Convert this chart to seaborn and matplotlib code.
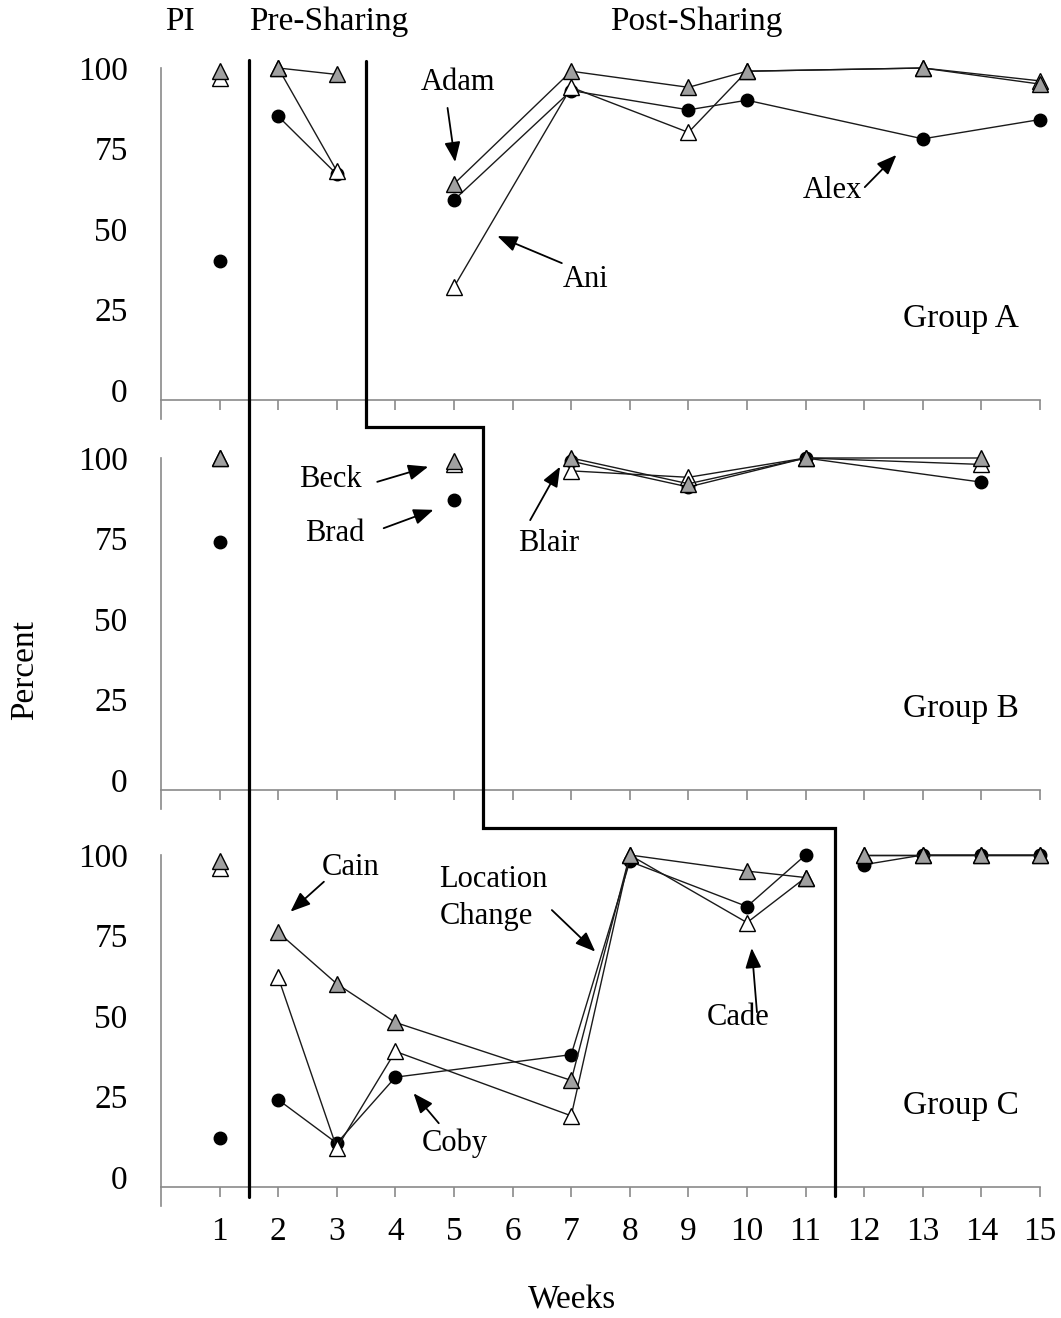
import numpy as np
import pandas as pd
import matplotlib
matplotlib.use("Agg")
import matplotlib.pyplot as plt
import matplotlib.transforms as mtransforms
from matplotlib.lines import Line2D
import seaborn as sns

# ---------------- data ----------------
weeks_A = [1, 2, 3, 5, 7, 9, 10, 13, 15]
adam = [99, 100, 98, 64, 99, 94, 99, 100, 95]
ani = [97, 100, 68, 32, 94, 80, 99, 100, 96]
alex = [40, 85, 67, 59, 93, 87, 90, 78, 84]

weeks_B = [1, 5, 7, 9, 11, 14]
beck = [100, 99, 100, 92, 100, 100]
brad = [74, 87, 99, 91, 100, 92.5]
blair = [100, 98, 96, 94, 100, 98]

weeks_C = [1, 2, 3, 4, 7, 8, 10, 11, 12, 13, 14, 15]
cain = [98, 76, 60, 48, 30, 100, 95, 93, 100, 100, 100, 100]
cade = [96, 62, 9, 39, 19, 100, 79, 93, 100, 100, 100, 100]
coby = [12, 24, 10.5, 31, 38, 98, 84, 100, 97, 100, 100, 100]

group_names = ["Group A", "Group B", "Group C"]
pi_boundary = 1.5
share_boundary = [3.5, 5.5, 11.5]
y_ticks = [0, 25, 50, 75, 100]
x_ticks = list(range(1, 16))
phase_labels = ["PI", "Pre-Sharing", "Post-Sharing"]

# ---------------- style ----------------
sns.set_theme(style="white")
plt.rcParams["font.family"] = ["Liberation Serif", "DejaVu Serif"]
plt.rcParams["text.color"] = "black"

W, H = 1061, 1318
fig = plt.figure(figsize=(W / 100, H / 100), dpi=100)

def fy(px):
    return 1 - px / H

left = 161 / W
width = (1040 - 161) / W
unit = 3.22
tops_px = [68, 458, 855]
axes = []
for t in tops_px:
    bot = t + 109 * unit
    ax = fig.add_axes([left, fy(bot), width, (bot - t) / H])
    axes.append(ax)

series_style = {
    "white": dict(marker="^", markersize=11.5, markerfacecolor="white"),
    "circle": dict(marker="o", markersize=9, markerfacecolor="black"),
    "gray": dict(marker="^", markersize=11.5, markerfacecolor="#a0a0a0"),
}

groups = [
    (weeks_A, [("circle", alex), ("white", ani), ("gray", adam)]),
    (weeks_B, [("circle", brad), ("white", blair), ("gray", beck)]),
    (weeks_C, [("circle", coby), ("white", cade), ("gray", cain)]),
]

for gi, (ax, (wks, ser)) in enumerate(zip(axes, groups)):
    b = share_boundary[gi]
    for kind, vals in ser:
        df = pd.DataFrame({"week": wks, "pct": vals})
        segs = [df[df.week < pi_boundary],
                df[(df.week > pi_boundary) & (df.week < b)],
                df[df.week > b]]
        for s in segs:
            if len(s) == 0:
                continue
            sns.lineplot(data=s, x="week", y="pct", ax=ax, estimator=None,
                         sort=False, color="#1a1a1a", lw=1.0,
                         markeredgecolor="black", markeredgewidth=1.0,
                         clip_on=False, **series_style[kind])

    ax.set_xlim(0, 15)
    ax.set_ylim(-9, 100)
    ax.set_xlabel("")
    ax.set_ylabel("")
    for sp in ["top", "right"]:
        ax.spines[sp].set_visible(False)
    for sp in ["left", "bottom"]:
        ax.spines[sp].set_color("#8a8a8a")
        ax.spines[sp].set_linewidth(1.2)
    ax.spines["bottom"].set_position(("data", -3.1))
    ax.set_yticks(y_ticks)
    ax.set_yticklabels([str(v) for v in y_ticks])
    ax.set_xticks(x_ticks)
    if gi == 2:
        ax.set_xticklabels([str(v) for v in x_ticks])
    else:
        ax.set_xticklabels([])
    ax.tick_params(axis="both", direction="out", length=7, width=1.2,
                   color="#8a8a8a", labelsize=24, labelcolor="black")
    ax.tick_params(axis="y", pad=17)
    ax.tick_params(axis="x", pad=14, bottom=True)
    ax.patch.set_alpha(0)
    ax.text(13.65, 22, group_names[gi], fontsize=24, ha="center", va="center")

# ---------------- annotations ----------------
arrow = dict(arrowstyle="-|>,head_length=0.55,head_width=0.22", color="black",
             lw=1.3, shrinkA=0, shrinkB=0, mutation_scale=22)

ann = [
    (0, "Adam", (5.07, 95.6), (4.89, 87.6), (5.02, 70.8)),
    (0, "Ani", (7.24, 34.2), (6.84, 39.4), (5.74, 47.8)),
    (0, "Alex", (11.45, 62.1), (12.01, 63.0), (12.55, 73.0)),
    (1, "Beck", (2.89, 93.2), (3.69, 92.6), (4.56, 97.3)),
    (1, "Brad", (2.96, 76.7), (3.80, 78.2), (4.65, 83.9)),
    (1, "Blair", (6.61, 73.3), (6.30, 80.7), (6.81, 97.3)),
    (2, "Cain", (3.23, 96.0), (2.78, 91.7), (2.21, 82.4)),
    (2, "Location\nChange", (5.70, 86.6), (6.67, 82.9), (7.41, 70.0)),
    (2, "Coby", (5.02, 10.6), (4.74, 16.7), (4.31, 26.0)),
    (2, "Cade", (9.85, 49.4), (10.17, 51.2), (10.08, 71.1)),
]
for gi, label, tpos, tail, head in ann:
    ax = axes[gi]
    ha = "left" if "\n" in label else "center"
    tx = tpos[0] - 0.95 if "\n" in label else tpos[0]
    ax.text(tx, tpos[1], label, fontsize=22, ha=ha, va="center",
            linespacing=1.35)
    ax.annotate("", xy=head, xytext=tail, arrowprops=arrow,
                annotation_clip=False)

# ---------------- phase change lines ----------------
trans = mtransforms.blended_transform_factory(axes[0].transData, fig.transFigure)
fig.add_artist(Line2D([pi_boundary, pi_boundary], [fy(60), fy(1197)],
                      transform=trans, color="black", lw=2.3))
step_x = [share_boundary[0], share_boundary[0], share_boundary[1],
          share_boundary[1], share_boundary[2], share_boundary[2]]
step_y = [fy(61), fy(427), fy(427), fy(828), fy(828), fy(1196)]
fig.add_artist(Line2D(step_x, step_y, transform=trans, color="black", lw=2.3,
                      solid_joinstyle="miter"))

# ---------------- headers and axis titles ----------------
fig.text(180 / W, fy(22), phase_labels[0], fontsize=24, ha="center", va="center")
fig.text(329 / W, fy(22), phase_labels[1], fontsize=24, ha="center", va="center")
fig.text(696 / W, fy(22), phase_labels[2], fontsize=24, ha="center", va="center")
fig.text(25 / W, fy(670), "Percent", fontsize=24, rotation=90,
         ha="center", va="center")
fig.text(572 / W, fy(1300), "Weeks", fontsize=24, ha="center", va="center")

fig.savefig("out.png", dpi=100)
